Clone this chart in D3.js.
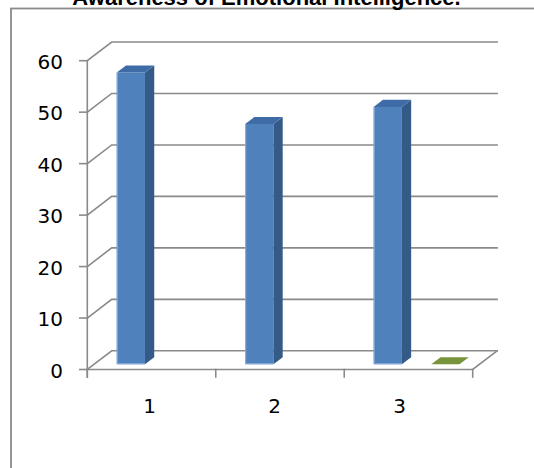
<!DOCTYPE html>
<html>
<head>
<meta charset="utf-8">
<script src="https://cdn.jsdelivr.net/npm/d3@7"></script>
<style>
  html, body { margin: 0; padding: 0; background: #fff; }
  svg { display: block; }
</style>
</head>
<body>
<svg id="chart" width="534" height="468"></svg>
<script>
// Data
const title = "Awareness of Emotional Intelligence.";
const categories = ["1", "2", "3"];
const seriesA = [56.67, 46.67, 50];      // blue series
const seriesB = [null, null, 0];         // green series (only category 3 has a value)
const yTicks = [0, 10, 20, 30, 40, 50, 60];

const svg = d3.select("#chart");

// Plot geometry (front plane) and the depth vector of the 3-D box
const front = { left: 87.3, right: 472.7, bottom: 369.5, top: 60.7 };
const depth = { dx: 24.4, dy: -18.7 };
const barDepth = { from: 0.28, to: 0.66 };   // bar slab position inside the box depth

const y = d3.scaleLinear().domain([0, 60]).range([front.bottom, front.top]);
const x = d3.scaleBand().domain(categories).range([front.left, front.right]);
const xs = d3.scaleBand().domain([0, 1]).range([0, x.bandwidth()])
  .paddingInner(0.51).paddingOuter(0.37).align(0.53);
const xLabel = d3.scalePoint().domain(categories).range([149.5, 399.5]);

// project a front-plane point to depth fraction t
const P = (px, py, t) => [px + t * depth.dx, py + t * depth.dy];

const gridColor = "#8a8a8a";

// Chart frame
svg.append("rect")
  .attr("x", 11).attr("y", 8.5)
  .attr("width", 560).attr("height", 500)
  .attr("fill", "none").attr("stroke", gridColor).attr("stroke-width", 1.8);

// Title
svg.append("text")
  .attr("x", 266.5).attr("y", 5)
  .attr("text-anchor", "middle")
  .attr("font-family", "Liberation Sans, Arial, sans-serif")
  .attr("font-weight", "bold")
  .attr("font-size", 22)
  .attr("fill", "#000")
  .text(title);

const grid = svg.append("g")
  .attr("stroke", gridColor).attr("stroke-width", 1.6)
  .attr("fill", "none").attr("stroke-linecap", "square");

// Back-wall gridlines and side-wall diagonals
yTicks.forEach(v => {
  const [bx0, by] = P(front.left, y(v), 1);
  const [bx1] = P(front.right, y(v), 1);
  grid.append("path").attr("d", `M${front.left},${y(v)}L${bx0},${by}L${bx1},${by}`);
});

// Floor: front edge and right edge
{
  const [rx, ry] = P(front.right, y(0), 1);
  grid.append("path").attr("d", `M${front.left},${y(0)}L${front.right},${y(0)}L${rx},${ry}`);
}

// Value axis line and ticks
grid.append("line")
  .attr("x1", front.left).attr("x2", front.left)
  .attr("y1", y(60)).attr("y2", y(0) + 7.5);
yTicks.forEach(v => {
  grid.append("line")
    .attr("x1", front.left - 7.5).attr("x2", front.left)
    .attr("y1", y(v)).attr("y2", y(v));
});

// Category axis ticks (band boundaries)
const bounds = categories.map(c => x(c)).concat([x(categories[categories.length - 1]) + x.bandwidth()]);
bounds.forEach(bx => {
  grid.append("line")
    .attr("x1", bx).attr("x2", bx)
    .attr("y1", y(0)).attr("y2", y(0) + 7.5);
});

// Value labels
const labelFont = "DejaVu Sans, Verdana, sans-serif";
svg.append("g").selectAll("text").data(yTicks).join("text")
  .attr("x", 63).attr("y", d => y(d) + 8)
  .attr("text-anchor", "end")
  .attr("font-family", labelFont).attr("font-size", 20)
  .attr("fill", "#000")
  .text(d => d);

// Category labels
svg.append("g").selectAll("text").data(categories).join("text")
  .attr("x", d => xLabel(d)).attr("y", 413)
  .attr("text-anchor", "middle")
  .attr("font-family", labelFont).attr("font-size", 20)
  .attr("fill", "#000")
  .text(d => d);

// 3-D bars
function drawBar(g, cat, s, value, colors) {
  if (value === null || value === undefined) return;
  const x0 = x(cat) + xs(s);
  const x1 = x0 + xs.bandwidth();
  const y0 = y(0), y1 = y(value);
  const t0 = barDepth.from, t1 = barDepth.to;
  const f = (px, py, t) => P(px, py, t).join(",");
  // front face
  if (value > 0) {
    g.append("path")
      .attr("d", `M${f(x0, y0, t0)}L${f(x1, y0, t0)}L${f(x1, y1, t0)}L${f(x0, y1, t0)}Z`)
      .attr("fill", colors.front);
    // side face
    g.append("path")
      .attr("d", `M${f(x1, y0, t0)}L${f(x1, y0, t1)}L${f(x1, y1, t1)}L${f(x1, y1, t0)}Z`)
      .attr("fill", colors.side);
    // subtle highlight on the front edges
    g.append("path")
      .attr("d", `M${f(x0 + 0.5, y1, t0)}L${f(x0 + 0.5, y0 - 0.5, t0)}L${f(x1, y0 - 0.5, t0)}`)
      .attr("fill", "none").attr("stroke", colors.edge).attr("stroke-width", 1);
  }
  // top face
  g.append("path")
    .attr("d", `M${f(x0, y1, t0)}L${f(x1, y1, t0)}L${f(x1, y1, t1)}L${f(x0, y1, t1)}Z`)
    .attr("fill", colors.top);
}

const bars = svg.append("g");
const blue = { front: "#4f81bd", side: "#345a87", top: "#3f6ca6", edge: "#8fb0dc" };
const green = { front: "#77933c", side: "#5e7530", top: "#77933c", edge: "#9bb363" };
categories.forEach((c, i) => {
  drawBar(bars, c, 0, seriesA[i], blue);
  drawBar(bars, c, 1, seriesB[i], green);
});
</script>
</body>
</html>
